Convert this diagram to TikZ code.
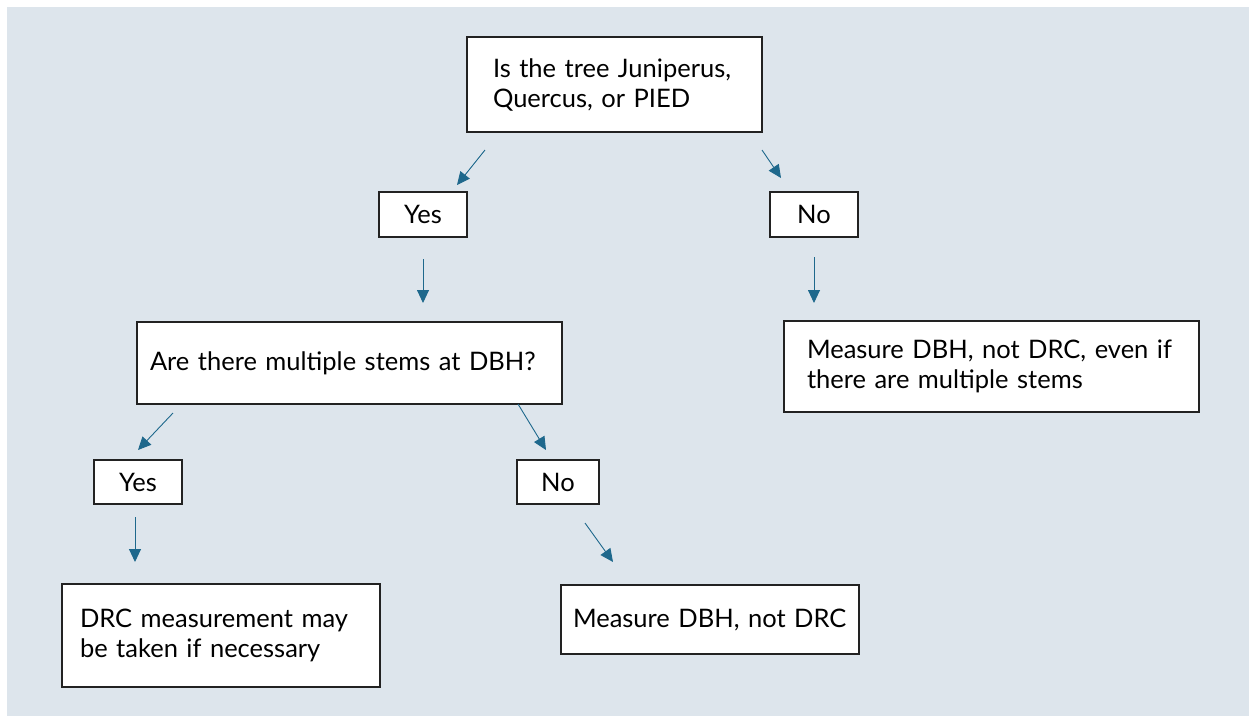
\documentclass[tikz,border=0pt]{standalone}
\usepackage{fontspec}
\setmainfont{Lato}
\usetikzlibrary{arrows.meta}
\definecolor{bgblue}{RGB}{221,229,236}
\definecolor{arrowblue}{RGB}{30,104,140}
\definecolor{boxline}{RGB}{34,34,34}
\hbadness=10000 \hfuzz=100pt
\tikzset{
  box/.style={draw=boxline, line width=1.8pt, fill=white, rectangle, font=\fontsize{25.5}{30}\selectfont, text=black},
  lbox/.style={box, align=left},
  conn/.style={draw=arrowblue, line width=0.9pt, -{Triangle[length=13pt,width=12pt]}},
}
\begin{document}
\begin{tikzpicture}[x=1pt,y=-1pt]
\fill[white] (0,0) rectangle (1249,716);
\fill[bgblue] (7,7) rectangle (1249,716);

% boxes
\node[lbox, minimum height=95pt, inner xsep=26pt, text width=243pt] (q1) at (614.5,84.5) {\mbox{Is the tree Juniperus,}\\\mbox{Quercus, or PIED}};
\node[box, minimum width=88pt, minimum height=45pt] (yes1) at (423,214.5) {Yes};
\node[box, minimum width=88pt, minimum height=45pt] (no1) at (814,214.5) {No};
\node[lbox, minimum height=82pt, inner xsep=13pt, text width=399pt] (q2) at (349.5,363) {\mbox{Are there multiple stems at DBH?}};
\node[lbox, minimum height=91pt, inner xsep=23pt, text width=369pt] (m1) at (991.5,366.5) {\mbox{Measure DBH, not DRC, even if}\\\mbox{there are multiple stems}};
\node[box, minimum width=88pt, minimum height=44pt] (yes2) at (138,482) {Yes};
\node[box, minimum width=82pt, minimum height=44pt] (no2) at (558,482) {No};
\node[lbox, minimum height=103pt, inner xsep=18pt, text width=282pt] (drc) at (221,635.5) {\mbox{DRC measurement may}\\\mbox{be taken if necessary}};
\node[lbox, minimum height=69pt, inner xsep=12pt, text width=274pt] (m2) at (710,619.5) {\mbox{Measure DBH, not DRC}};

% arrow end points
\coordinate (a1s) at (485,150); \coordinate (a1e) at (457,185);
\coordinate (a2s) at (762,150); \coordinate (a2e) at (781,178);
\coordinate (a3s) at (423,259); \coordinate (a3e) at (423,303);
\coordinate (a4s) at (814,257); \coordinate (a4e) at (814,303);
\coordinate (a5s) at (173,413); \coordinate (a5e) at (138,450);
\coordinate (a6s) at (518,404); \coordinate (a6e) at (546,450);
\coordinate (a7s) at (135,517); \coordinate (a7e) at (135,562);
\coordinate (a8s) at (585,523); \coordinate (a8e) at (613,562);

\draw[conn] (a1s) -- (a1e);
\draw[conn] (a2s) -- (a2e);
\draw[conn] (a3s) -- (a3e);
\draw[conn] (a4s) -- (a4e);
\draw[conn] (a5s) -- (a5e);
\draw[conn] (a6s) -- (a6e);
\draw[conn] (a7s) -- (a7e);
\draw[conn] (a8s) -- (a8e);
\end{tikzpicture}
\end{document}
